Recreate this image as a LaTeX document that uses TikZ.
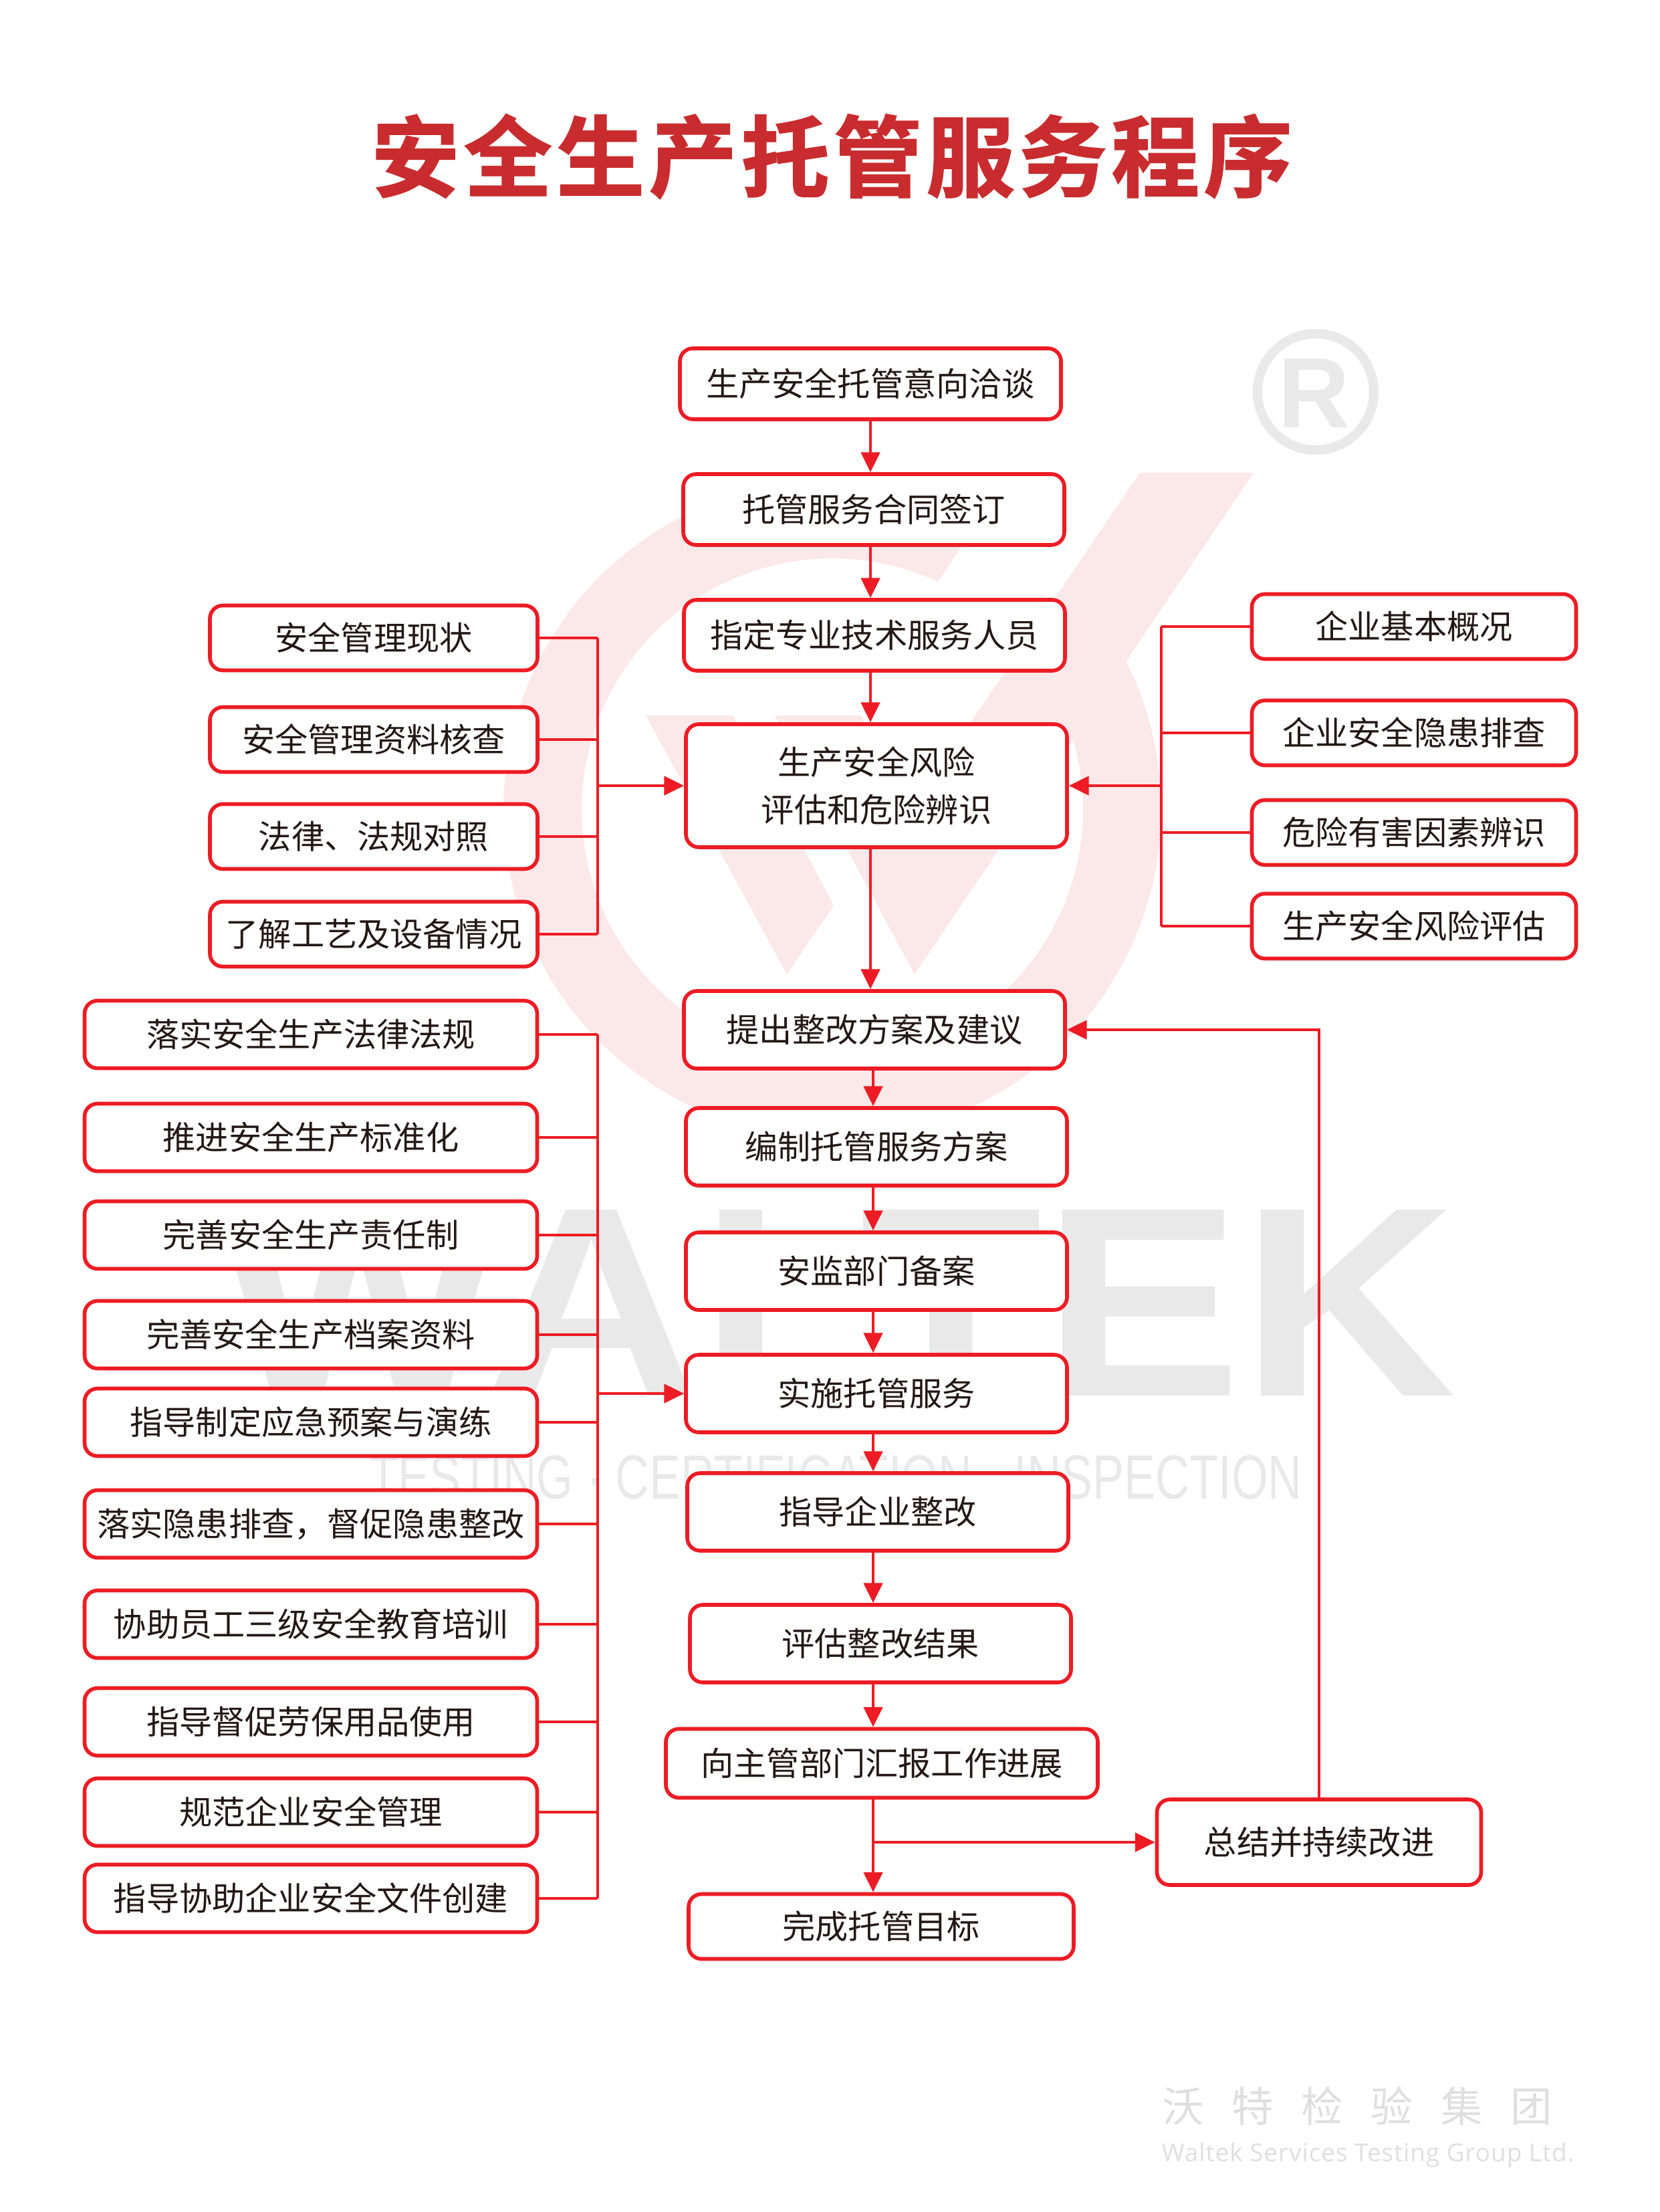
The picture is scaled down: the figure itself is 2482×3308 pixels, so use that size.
\documentclass[tikz,border=0pt]{standalone}
\usepackage{fontspec}
\setmainfont{Noto Sans CJK SC}
\newfontfamily\titlefont[LetterSpace=5,FakeBold=1.5]{Noto Sans CJK SC Bold}
\newfontfamily\groupfont[LetterSpace=67]{Noto Sans CJK SC}
\newfontfamily\wmfont{Liberation Sans}
\newfontfamily\groupenfont[LetterSpace=2.6]{Open Sans}
\usetikzlibrary{arrows.meta}
\definecolor{linered}{HTML}{ED1C24}
\definecolor{titlered}{HTML}{C92C2E}
\definecolor{inkdark}{HTML}{231815}
\definecolor{wmpink}{HTML}{FBE8E9}
\definecolor{wmgray}{HTML}{E9E9E9}
\definecolor{groupgray}{HTML}{DEDFDE}
\tikzset{
    mynode/.style = {draw=linered, line width=3.2pt, fill=white, rounded corners=11pt, align=center, inner sep=0pt, text=inkdark, font=\fontsize{28}{40}\selectfont},
    mynodec/.style = {mynode, minimum width=570*0.02cm, minimum height=116*0.02cm},
    mynodel/.style = {mynode, minimum width=490*0.02cm, minimum height=97*0.02cm},
    mynoder/.style = {mynode, minimum width=485*0.02cm, minimum height=97*0.02cm},
    mynodem/.style = {mynode, minimum width=677*0.02cm, minimum height=101*0.02cm},
    edgen/.style = {-,line width=2.6pt,linered},
    edgea/.style = {-{Triangle[length=17pt,width=16pt]},line width=2.6pt,linered},
    wmtext/.style = {inner sep=0pt, text=wmgray}
}
\begin{document}
\begin{tikzpicture}[x=0.02cm,y=0.02cm]
  \useasboundingbox (0,0) rectangle (2482,-3308);

  % logo behind the chart
  \fill[wmpink] ([shift={(1245,-1210)}]62.9:9.84cm) arc[start angle=62.9,end angle=386.7,radius=9.84cm]
    -- ([shift={(1245,-1210)}]376.1:7.5cm) arc[start angle=376.1,end angle=65.1,radius=7.5cm] -- cycle;
  \fill[wmpink] (966,-1070) -- (1097,-1070) -- (1247,-1354) -- (1177,-1457) -- cycle;
  \fill[wmpink] (1159,-1070) -- (1288,-1070) -- (1364,-1210) -- (1705,-707) -- (1875,-707) -- (1368,-1457) -- cycle;
  \node[wmtext, anchor=base, transform shape, xscale=1.105, font=\wmfont\bfseries\fontsize{230}{230}\selectfont] (wmname) at (1253,-2087) {WALTEK};
  \node[wmtext, anchor=base, transform shape, xscale=0.757, font=\wmfont\fontsize{53}{53}\selectfont] (wmline) at (1250,-2241) {TESTING · CERTIFICATION · INSPECTION};
  \draw[wmgray, line width=8pt] (1968,-586) circle (87);
  \node[wmtext, anchor=base, font=\wmfont\bfseries\fontsize{85}{85}\selectfont] (wmreg) at (1965,-639) {R};

  \node[anchor=center, inner sep=0pt, text=titlered, font=\titlefont\fontsize{75}{75}\selectfont] (title) at (1244,-234) {安全生产托管服务程序};

  % middle column
  \node[mynodec, minimum height=106*0.02cm] (c1) at (1302,-574) {生产安全托管意向洽谈};
  \node[mynodec, minimum height=106*0.02cm] (c2) at (1307,-762) {托管服务合同签订};
  \node[mynodec, minimum height=106*0.02cm] (c3) at (1308,-950) {指定专业技术服务人员};
  \node[mynodec, minimum height=184*0.02cm] (c4) at (1311,-1175) {生产安全风险\\评估和危险辨识};
  \node[mynodec] (c5) at (1308,-1540) {提出整改方案及建议};
  \node[mynodec] (c6) at (1311,-1715) {编制托管服务方案};
  \node[mynodec] (c7) at (1311,-1901) {安监部门备案};
  \node[mynodec] (c8) at (1311,-2084) {实施托管服务};
  \node[mynodec] (c9) at (1313,-2261) {指导企业整改};
  \node[mynodec] (c10) at (1317,-2458) {评估整改结果};
  \node[mynodec, minimum width=646*0.02cm, minimum height=103*0.02cm] (c11) at (1319,-2637) {向主管部门汇报工作进展};
  \node[mynodec, minimum width=576*0.02cm, minimum height=97*0.02cm] (c12) at (1318,-2881) {完成托管目标};
  \node[mynodec, minimum width=485*0.02cm, minimum height=128*0.02cm] (sum) at (1973,-2755) {总结并持续改进};

  % upper left
  \node[mynodel] (l1) at (559,-954) {安全管理现状};
  \node[mynodel] (l2) at (559,-1106) {安全管理资料核查};
  \node[mynodel] (l3) at (559,-1251) {法律、法规对照};
  \node[mynodel] (l4) at (559,-1397) {了解工艺及设备情况};

  % upper right
  \node[mynoder] (r1) at (2115,-937) {企业基本概况};
  \node[mynoder] (r2) at (2115,-1096) {企业安全隐患排查};
  \node[mynoder] (r3) at (2115,-1245) {危险有害因素辨识};
  \node[mynoder] (r4) at (2115,-1385) {生产安全风险评估};

  % lower left
  \node[mynodem] (m1) at (465,-1547) {落实安全生产法律法规};
  \node[mynodem] (m2) at (465,-1701) {推进安全生产标准化};
  \node[mynodem] (m3) at (465,-1847) {完善安全生产责任制};
  \node[mynodem] (m4) at (465,-1996) {完善安全生产档案资料};
  \node[mynodem] (m5) at (465,-2127) {指导制定应急预案与演练};
  \node[mynodem] (m6) at (465,-2279) {落实隐患排查，督促隐患整改};
  \node[mynodem] (m7) at (465,-2429) {协助员工三级安全教育培训};
  \node[mynodem] (m8) at (465,-2575) {指导督促劳保用品使用};
  \node[mynodem] (m9) at (465,-2710) {规范企业安全管理};
  \node[mynodem] (m10) at (465,-2839) {指导协助企业安全文件创建};

  \coordinate (buslx) at (894,0);
  \coordinate (busrx) at (1737,0);
  \coordinate (axisa) at (1302,0);
  \coordinate (axisb) at (1306,0);

  \foreach \a/\b in {c1/c2,c2/c3,c3/c4,c4/c5}
    \draw[edgea] (\a.south -| axisa) -- (\b.north -| axisa);
  \foreach \a/\b in {c5/c6,c6/c7,c7/c8,c8/c9,c9/c10,c10/c11,c11/c12}
    \draw[edgea] (\a.south -| axisb) -- (\b.north -| axisb);

  \foreach \a in {l1,l2,l3,l4,m1,m2,m3,m4,m5,m6,m7,m8,m9,m10}
    \draw[edgen] (\a.east) -- (\a.east -| buslx);
  \foreach \a in {r1,r2,r3,r4}
    \draw[edgen] (\a.west) -- (\a.west -| busrx);
  \draw[edgen] (l1.east -| buslx) -- (l4.east -| buslx);
  \draw[edgen] (m1.east -| buslx) -- (m10.east -| buslx);
  \draw[edgen] (r1.west -| busrx) -- (r4.west -| busrx);

  \draw[edgea] (c4.west -| buslx) -- (c4.west);
  \draw[edgea] (c8.west -| buslx) -- (c8.west);
  \draw[edgea] (c4.east -| busrx) -- (c4.east);
  \draw[edgea] (sum.west -| axisb) -- (sum.west);
  \draw[edgea] (sum.north) |- (c5.east);

  \node[inner sep=0pt, text=groupgray, font=\groupfont\fontsize{35.5}{36}\selectfont] (group) at (2030,-3150) {沃特检验集团};
  \node[inner sep=0pt, text=groupgray, font=\groupenfont\fontsize{21}{21}\selectfont] (groupen) at (2046,-3223) {Waltek Services Testing Group Ltd.};
\end{tikzpicture}
\end{document}
